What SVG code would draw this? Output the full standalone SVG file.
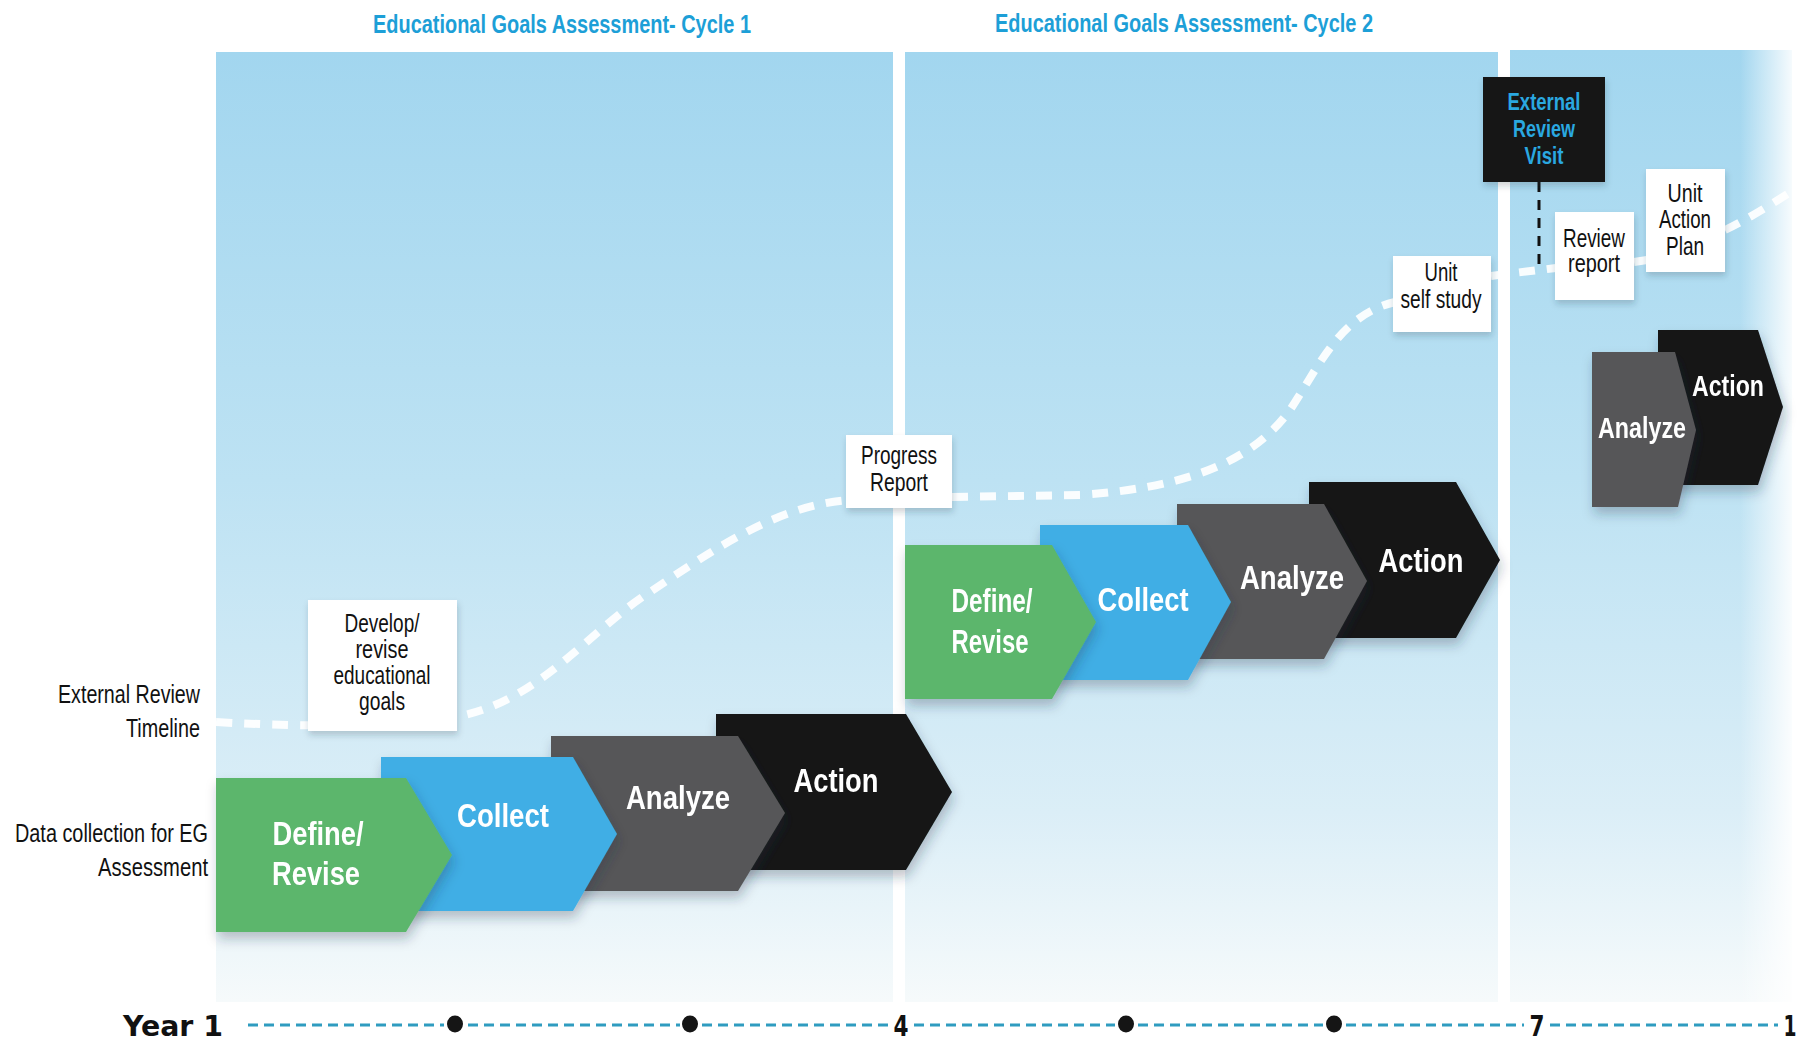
<svg xmlns="http://www.w3.org/2000/svg" width="1809" height="1045" viewBox="0 0 1809 1045">
  <defs>
    <linearGradient id="panelFill" x1="0" y1="0" x2="0" y2="1">
      <stop offset="0" stop-color="#a2d6ef"/>
      <stop offset="0.45" stop-color="#bde2f3"/>
      <stop offset="0.8" stop-color="#dbeef7"/>
      <stop offset="1" stop-color="#f6fafb"/>
    </linearGradient>
    <linearGradient id="edgeFade" x1="0" y1="0" x2="1" y2="0">
      <stop offset="0" stop-color="#ffffff" stop-opacity="0"/>
      <stop offset="1" stop-color="#ffffff" stop-opacity="0.9"/>
    </linearGradient>
    <filter id="shadow" x="-10%" y="-10%" width="130%" height="140%">
      <feDropShadow dx="2" dy="7" stdDeviation="6" flood-color="#203040" flood-opacity="0.28"/>
    </filter>
    <filter id="boxShadow" x="-10%" y="-10%" width="130%" height="130%">
      <feDropShadow dx="1" dy="4" stdDeviation="3" flood-color="#203040" flood-opacity="0.22"/>
    </filter>
    <style>
      text{font-family:"Liberation Sans Narrow","Liberation Sans",Arial,sans-serif}
      .title{font-weight:bold;font-size:26px;fill:#1d9fd7;text-anchor:middle}
      .side{font-size:25px;fill:#111;text-anchor:end}
      .box{fill:#ffffff;filter:url(#boxShadow)}
      .boxText{font-size:25px;fill:#111;text-anchor:middle}
      .visitText{font-weight:bold;font-size:23px;fill:#2aa8e0;text-anchor:middle}
      .step{filter:url(#shadow)}
      .stepText{font-weight:bold;font-size:34px;fill:#ffffff;text-anchor:middle}
      .stepTextSm{font-weight:bold;font-size:29px;fill:#ffffff;text-anchor:middle}
      .define{fill:#5bb66c}
      .collect{fill:#3faee5}
      .analyze{fill:#575759}
      .action{fill:#131313}
      .trail{fill:none;stroke:#ffffff;stroke-width:8;stroke-dasharray:16 12;opacity:0.92}
      .year{font-family:"DejaVu Sans","Liberation Sans",sans-serif;font-weight:bold;font-size:28px;fill:#111}
      .yearNum{font-family:"DejaVu Sans","Liberation Sans",sans-serif;font-weight:bold;font-size:28px;fill:#111;text-anchor:middle}
      .axis{stroke:#2f9cc0;stroke-width:3;stroke-dasharray:10 6;fill:none}
    </style>
  </defs>

  <rect width="1809" height="1045" fill="#ffffff"/>

  <!-- background panels, one per cycle -->
  <g id="panels">
    <rect x="216" y="52" width="677" height="950" fill="url(#panelFill)"/>
    <rect x="905" y="52" width="593" height="950" fill="url(#panelFill)"/>
    <rect x="1510" y="50" width="282" height="952" fill="url(#panelFill)"/>
    <rect x="1740" y="50" width="52" height="952" fill="url(#edgeFade)"/>
  </g>

  <!-- cycle headings -->
  <g id="titles">
    <text class="title" x="562" y="33" textLength="378" lengthAdjust="spacingAndGlyphs">Educational Goals Assessment- Cycle 1</text>
    <text class="title" x="1184" y="32" textLength="378" lengthAdjust="spacingAndGlyphs">Educational Goals Assessment- Cycle 2</text>
  </g>

  <!-- row labels -->
  <g id="row-labels">
    <text class="side" x="200" y="703" textLength="142" lengthAdjust="spacingAndGlyphs">External Review</text>
    <text class="side" x="200" y="737" textLength="74" lengthAdjust="spacingAndGlyphs">Timeline</text>
    <text class="side" x="208" y="842" textLength="193" lengthAdjust="spacingAndGlyphs">Data collection for EG</text>
    <text class="side" x="208" y="876" textLength="110" lengthAdjust="spacingAndGlyphs">Assessment</text>
  </g>

  <!-- external review timeline (dashed white trail) -->
  <g id="connectors">
    <path class="trail" d="M216,722 C320,728 400,726 460,716 C540,700 590,630 650,592 C720,545 780,505 850,500"/>
    <path class="trail" d="M952,497 L1080,495 C1180,488 1250,465 1290,410 C1320,365 1340,315 1395,302"/>
    <path class="trail" d="M1491,276 C1520,272 1540,270 1556,268"/>
    <path class="trail" d="M1634,262 L1647,260"/>
    <path class="trail" d="M1725,230 C1750,218 1775,202 1800,186"/>
    <line x1="1539" y1="182" x2="1539" y2="266" stroke="#111" stroke-width="3" stroke-dasharray="10 8"/>
  </g>

  <!-- timeline notes -->
  <g id="note-develop">
    <rect class="box" x="308" y="600" width="149" height="131"/>
    <text class="boxText" x="382" y="632" textLength="75" lengthAdjust="spacingAndGlyphs">Develop/</text>
    <text class="boxText" x="382" y="658" textLength="53" lengthAdjust="spacingAndGlyphs">revise</text>
    <text class="boxText" x="382" y="684" textLength="97" lengthAdjust="spacingAndGlyphs">educational</text>
    <text class="boxText" x="382" y="710" textLength="46" lengthAdjust="spacingAndGlyphs">goals</text>
  </g>
  <g id="note-progress">
    <rect class="box" x="846" y="435" width="106" height="73"/>
    <text class="boxText" x="899" y="464" textLength="76" lengthAdjust="spacingAndGlyphs">Progress</text>
    <text class="boxText" x="899" y="491" textLength="58" lengthAdjust="spacingAndGlyphs">Report</text>
  </g>
  <g id="note-selfstudy">
    <rect class="box" x="1393" y="256" width="98" height="76"/>
    <text class="boxText" x="1441" y="281" textLength="33" lengthAdjust="spacingAndGlyphs">Unit</text>
    <text class="boxText" x="1441" y="308" textLength="81" lengthAdjust="spacingAndGlyphs">self study</text>
  </g>
  <g id="note-visit">
    <rect x="1483" y="77" width="122" height="105" fill="#151515" filter="url(#boxShadow)"/>
    <text class="visitText" x="1544" y="110" textLength="73" lengthAdjust="spacingAndGlyphs">External</text>
    <text class="visitText" x="1544" y="137" textLength="62" lengthAdjust="spacingAndGlyphs">Review</text>
    <text class="visitText" x="1544" y="164" textLength="39" lengthAdjust="spacingAndGlyphs">Visit</text>
  </g>
  <g id="note-review">
    <rect class="box" x="1555" y="212" width="79" height="88"/>
    <text class="boxText" x="1594" y="247" textLength="62" lengthAdjust="spacingAndGlyphs">Review</text>
    <text class="boxText" x="1594" y="272" textLength="52" lengthAdjust="spacingAndGlyphs">report</text>
  </g>
  <g id="note-actionplan">
    <rect class="box" x="1646" y="169" width="79" height="103"/>
    <text class="boxText" x="1685" y="202" textLength="35" lengthAdjust="spacingAndGlyphs">Unit</text>
    <text class="boxText" x="1685" y="228" textLength="52" lengthAdjust="spacingAndGlyphs">Action</text>
    <text class="boxText" x="1685" y="255" textLength="38" lengthAdjust="spacingAndGlyphs">Plan</text>
  </g>

  <!-- cycle 1 steps -->
  <g id="c1-action" class="step">
    <path class="action" d="M716,714 H906 L952,792 L906,870 H716 Z"/>
    <text class="stepText" x="836" y="792" textLength="85" lengthAdjust="spacingAndGlyphs">Action</text>
  </g>
  <g id="c1-analyze" class="step">
    <path class="analyze" d="M551,736 H738 L785,813 L738,891 H551 Z"/>
    <text class="stepText" x="678" y="809" textLength="104" lengthAdjust="spacingAndGlyphs">Analyze</text>
  </g>
  <g id="c1-collect" class="step">
    <path class="collect" d="M381,757 H573 L617,834 L573,911 H381 Z"/>
    <text class="stepText" x="503" y="827" textLength="92" lengthAdjust="spacingAndGlyphs">Collect</text>
  </g>
  <g id="c1-define" class="step">
    <path class="define" d="M216,778 H406 L452,855 L406,932 H216 Z"/>
    <text class="stepText" x="318" y="845" textLength="91" lengthAdjust="spacingAndGlyphs">Define/</text>
    <text class="stepText" x="316" y="885" textLength="88" lengthAdjust="spacingAndGlyphs">Revise</text>
  </g>

  <!-- cycle 2 steps -->
  <g id="c2-action" class="step">
    <path class="action" d="M1309,482 H1456 L1500,560 L1456,638 H1309 Z"/>
    <text class="stepText" x="1421" y="572" textLength="85" lengthAdjust="spacingAndGlyphs">Action</text>
  </g>
  <g id="c2-analyze" class="step">
    <path class="analyze" d="M1177,504 H1324 L1367,581 L1324,659 H1177 Z"/>
    <text class="stepText" x="1292" y="589" textLength="104" lengthAdjust="spacingAndGlyphs">Analyze</text>
  </g>
  <g id="c2-collect" class="step">
    <path class="collect" d="M1040,525 H1188 L1231,602 L1188,680 H1040 Z"/>
    <text class="stepText" x="1143" y="611" textLength="91" lengthAdjust="spacingAndGlyphs">Collect</text>
  </g>
  <g id="c2-define" class="step">
    <path class="define" d="M905,545 H1052 L1096,622 L1052,699 H905 Z"/>
    <text class="stepText" x="992" y="612" textLength="81" lengthAdjust="spacingAndGlyphs">Define/</text>
    <text class="stepText" x="990" y="653" textLength="77" lengthAdjust="spacingAndGlyphs">Revise</text>
  </g>

  <!-- cycle 3 steps (partial) -->
  <g id="c3-action" class="step">
    <path class="action" d="M1658,330 H1758 L1783,407 L1758,485 H1658 Z"/>
    <text class="stepTextSm" x="1728" y="396" textLength="72" lengthAdjust="spacingAndGlyphs">Action</text>
  </g>
  <g id="c3-analyze" class="step">
    <path class="analyze" d="M1592,352 H1675 L1696,430 L1678,507 H1592 Z"/>
    <text class="stepTextSm" x="1642" y="438" textLength="88" lengthAdjust="spacingAndGlyphs">Analyze</text>
  </g>

  <!-- year axis -->
  <g id="year-axis">
    <path class="axis" d="M248,1025 H444 M468,1025 H680 M702,1025 H888 M914,1025 H1115 M1138,1025 H1323 M1346,1025 H1524 M1550,1025 H1778"/>
    <ellipse cx="455" cy="1024" rx="8" ry="8.5" fill="#151515"/>
    <ellipse cx="690" cy="1024" rx="8" ry="8.5" fill="#151515"/>
    <ellipse cx="1126" cy="1024" rx="8" ry="8.5" fill="#151515"/>
    <ellipse cx="1334" cy="1024" rx="8" ry="8.5" fill="#151515"/>
    <text class="year" x="123" y="1036" textLength="100" lengthAdjust="spacingAndGlyphs">Year 1</text>
    <text class="yearNum" x="901" y="1036" textLength="15" lengthAdjust="spacingAndGlyphs">4</text>
    <text class="yearNum" x="1537" y="1036" textLength="15" lengthAdjust="spacingAndGlyphs">7</text>
    <text class="yearNum" x="1790" y="1036" textLength="13" lengthAdjust="spacingAndGlyphs">1</text>
  </g>
</svg>
